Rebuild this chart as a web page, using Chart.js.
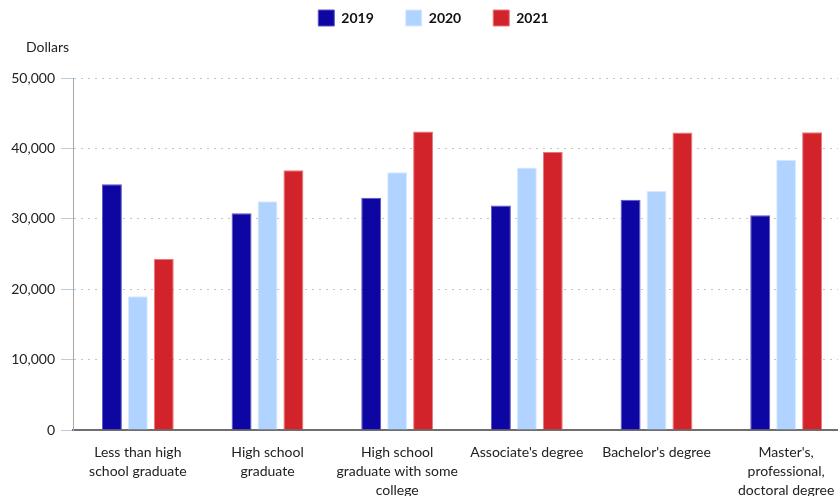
<!DOCTYPE html>
<html>
<head>
<meta charset="utf-8">
<script src="https://cdn.jsdelivr.net/npm/chart.js@4"></script>
<style>
  html, body { margin: 0; padding: 0; background: #fff; overflow: hidden; }
  #wrap { width: 862px; height: 496px; }
</style>
</head>
<body>
<div id="wrap"><canvas id="c" width="862" height="496"></canvas></div>
<script>
const categories = [
  ["Less than high", "school graduate"],
  ["High school", "graduate"],
  ["High school", "graduate with some", "college"],
  ["Associate's degree"],
  ["Bachelor's degree"],
  ["Master's,", "professional,", "doctoral degree"]
];
const seriesNames = ["2019", "2020", "2021"];
const values2019 = [34900, 30800, 33000, 31900, 32700, 30500];
const values2020 = [19000, 32500, 36600, 37300, 33950, 38400];
const values2021 = [24300, 36900, 42400, 39500, 42250, 42300];
const yTicks = [0, 10000, 20000, 30000, 40000, 50000];

const colors = ["#0e06a3", "#b0d3ff", "#d2232a"];
const edges = ["#5a55c4", "#d9eaff", "#e8787c"];

const FONT = "Lato, 'Open Sans', sans-serif";

// Unit caption above the value axis
const unitLabel = {
  id: 'unitLabel',
  afterDraw(chart) {
    const ctx = chart.ctx;
    ctx.save();
    ctx.font = "14px " + FONT;
    ctx.fillStyle = "#222";
    ctx.textBaseline = "middle";
    ctx.textAlign = "left";
    ctx.fillText("Dollars", 26, 47);
    ctx.restore();
  }
};

// Lift the legend up to the very top of the canvas
const legendLift = {
  id: 'legendLift',
  afterLayout(chart) {
    const lg = chart.legend;
    if (!lg) return;
    const up = 42, right = 8;
    lg.top -= up;
    lg.bottom -= up;
    lg.left += right;
    lg.right += right;
  }
};

new Chart(document.getElementById('c'), {
  type: 'bar',
  data: {
    labels: categories,
    datasets: [values2019, values2020, values2021].map((v, i) => ({
      label: seriesNames[i],
      data: v,
      backgroundColor: colors[i],
      borderColor: edges[i],
      borderWidth: 1,
      categoryPercentage: 0.6,
      barPercentage: 0.77
    }))
  },
  options: {
    responsive: false,
    animation: false,
    layout: { padding: { left: 0, right: 11, top: 20, bottom: 0 } },
    plugins: {
      legend: {
        position: 'top',
        labels: {
          boxWidth: 16,
          boxHeight: 16,
          padding: 32,
          color: '#111',
          font: { family: FONT, size: 14, weight: 'bold' }
        }
      },
      tooltip: { enabled: false }
    },
    scales: {
      x: {
        grid: { display: false },
        border: { color: '#6e6e6e', width: 2 },
        ticks: {
          color: '#222',
          font: { family: FONT, size: 14, lineHeight: 1.35 },
          maxRotation: 0,
          autoSkip: false,
          padding: 5
        },
        afterFit(scale) { scale.height = 66; }
      },
      y: {
        min: 0,
        max: 50000,
        afterBuildTicks(scale) { scale.ticks = yTicks.map(v => ({ value: v })); },
        grid: {
          color: '#c4c4c4',
          tickColor: '#b8cce4',
          tickBorderDash: [],
          tickLength: 12,
          lineWidth: 1
        },
        border: { color: '#a6a6a6', width: 1, dash: [2, 5] },
        ticks: {
          color: '#222',
          font: { family: FONT, size: 14 },
          padding: 6,
          callback: v => v.toLocaleString('en-US')
        },
        afterFit(scale) { scale.width = 73; }
      }
    }
  },
  plugins: [unitLabel, legendLift]
});
</script>
</body>
</html>
